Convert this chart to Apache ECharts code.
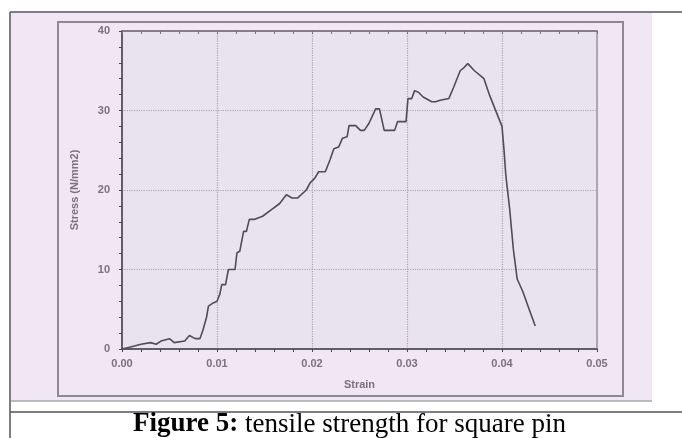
<!DOCTYPE html>
<html>
<head>
<meta charset="utf-8">
<script src="https://cdn.jsdelivr.net/npm/echarts@6/dist/echarts.min.js"></script>
<style>
html,body{margin:0;padding:0;background:#fff;}
#chart{width:682px;height:438px;}
</style>
</head>
<body>
<div id="chart"></div>
<script>
// strain / stress
var strain = [0, 0.0007, 0.0014, 0.002, 0.003, 0.0036, 0.0041, 0.005, 0.0055, 0.0066, 0.0071, 0.0077, 0.0082,
	0.0085, 0.0089, 0.0091, 0.0096, 0.01, 0.0103, 0.0105, 0.0109, 0.0112, 0.0119, 0.0121, 0.0124, 0.0128, 0.0131,
	0.0134, 0.0139, 0.0148, 0.0157, 0.0166, 0.0173, 0.0179, 0.0185, 0.0194, 0.0198, 0.0203, 0.0207, 0.0214, 0.0219,
	0.0223, 0.0228, 0.0232, 0.0237, 0.0239, 0.0246, 0.0251, 0.0255, 0.026, 0.0267, 0.0271, 0.0276, 0.0287, 0.029,
	0.0299, 0.0301, 0.0305, 0.0308, 0.0312, 0.0317, 0.0326, 0.033, 0.0335, 0.0344, 0.0349, 0.0356, 0.036, 0.0364,
	0.0371, 0.0381, 0.0387, 0.0394, 0.04, 0.0402, 0.0404, 0.0408, 0.0412, 0.0416, 0.0422, 0.0428, 0.0435];
var stress = [0, 0.2, 0.4, 0.6, 0.8, 0.6, 1.0, 1.3, 0.8, 1.0, 1.7, 1.3, 1.3,
	2.3, 4.0, 5.4, 5.8, 6.0, 6.9, 8.1, 8.1, 10.0, 10.0, 12.1, 12.3, 14.8, 14.8,
	16.3, 16.3, 16.7, 17.5, 18.3, 19.4, 19.0, 19.0, 20.0, 20.9, 21.5, 22.3, 22.3, 23.8,
	25.2, 25.4, 26.5, 26.7, 28.1, 28.1, 27.5, 27.5, 28.4, 30.2, 30.2, 27.5, 27.5, 28.6,
	28.6, 31.5, 31.5, 32.5, 32.3, 31.7, 31.1, 31.1, 31.3, 31.5, 32.9, 35.0, 35.4, 35.9,
	35.0, 34.0, 31.9, 29.8, 28.0, 25.2, 21.9, 17.7, 12.5, 8.8, 7.2, 5.2, 2.9];
var xTicks = ['0.00', '0.01', '0.02', '0.03', '0.04', '0.05'];

var points = [];
for (var i = 0; i < strain.length; i++) {
	points.push([strain[i], stress[i]]);
}

var myChart = echarts.init(document.getElementById('chart'));

var tickLabel = {color: '#78737e', fontSize: 11, fontWeight: 'bold', fontFamily: 'Liberation Sans'};
var nameStyle = {color: '#78737e', fontSize: 11, fontWeight: 'bold', fontFamily: 'Liberation Sans'};

var option = {
	animation: false,
	backgroundColor: '#fff',
	graphic: [
		// scanned page background and frames
		{type: 'rect', z: -10, shape: {x: 11, y: 13, width: 641, height: 388}, style: {fill: '#f1e6f4'}},
		{type: 'line', z: -9, shape: {x1: 11, y1: 401, x2: 652, y2: 401}, style: {stroke: '#a9a4ad', lineWidth: 1.5}},
		{type: 'rect', z: -8, shape: {x: 58, y: 22, width: 565, height: 374}, style: {fill: 'none', stroke: '#8d8893', lineWidth: 2}},
		{type: 'line', shape: {x1: 10, y1: 12, x2: 682, y2: 12}, style: {stroke: '#55525a', lineWidth: 1.5}},
		{type: 'line', shape: {x1: 10, y1: 12, x2: 10, y2: 438}, style: {stroke: '#55525a', lineWidth: 1.5}},
		{type: 'line', shape: {x1: 10, y1: 412, x2: 682, y2: 412}, style: {stroke: '#55525a', lineWidth: 1.5}},
		{
			type: 'text', left: 133, top: 411,
			style: {
				text: '{b|Figure 5:} tensile strength for square pin',
				rich: {b: {fontWeight: 'bold', fontSize: 27, fontFamily: 'Liberation Serif', fill: '#000'}},
				fontSize: 27, fontFamily: 'Liberation Serif', fill: '#000'
			}
		}
	],
	grid: {left: 122, right: 85, top: 31, bottom: 89, show: true, backgroundColor: '#e9e3ef', borderColor: '#9a95a0', borderWidth: 1.5},
	xAxis: [{
		type: 'value', min: 0, max: 0.05, interval: 0.01,
		name: 'Strain', nameLocation: 'middle', nameGap: 30,
		nameTextStyle: nameStyle,
		axisLine: {lineStyle: {color: '#4a4650', width: 1.5}},
		axisTick: {length: 3, lineStyle: {color: '#4a4650'}},
		minorTick: {show: true, splitNumber: 5, length: 3, lineStyle: {color: '#4a4650'}},
		axisLabel: Object.assign({margin: 9, formatter: function (v) { return xTicks[Math.round(v * 100)]; }}, tickLabel),
		splitLine: {lineStyle: {color: '#aaa3b0', type: 'dotted', width: 1.2}}
	}, {
		type: 'value', position: 'top', min: 0, max: 0.05, interval: 0.01,
		axisLine: {show: true, lineStyle: {color: '#77727c', width: 1.5}},
		axisTick: {show: true, inside: true, length: 3, lineStyle: {color: '#77727c'}},
		minorTick: {show: true, splitNumber: 5, length: 3, lineStyle: {color: '#77727c'}},
		axisLabel: {show: false}, splitLine: {show: false}
	}],
	yAxis: [{
		type: 'value', min: 0, max: 40, interval: 10,
		name: 'Stress (N/mm2)', nameLocation: 'middle', nameGap: 42,
		nameTextStyle: nameStyle,
		axisLine: {show: true, lineStyle: {color: '#4a4650', width: 1.5}},
		axisTick: {show: true, length: 3, lineStyle: {color: '#4a4650'}},
		minorTick: {show: true, splitNumber: 5, length: 3, lineStyle: {color: '#4a4650'}},
		axisLabel: Object.assign({margin: 12}, tickLabel),
		splitLine: {lineStyle: {color: '#aaa3b0', type: 'dotted', width: 1.2}}
	}],
	series: [{
		type: 'line',
		data: points,
		showSymbol: false,
		lineStyle: {color: '#4f4c54', width: 1.6},
		itemStyle: {color: '#4f4c54'}
	}]
};

myChart.setOption(option);
</script>
</body>
</html>
